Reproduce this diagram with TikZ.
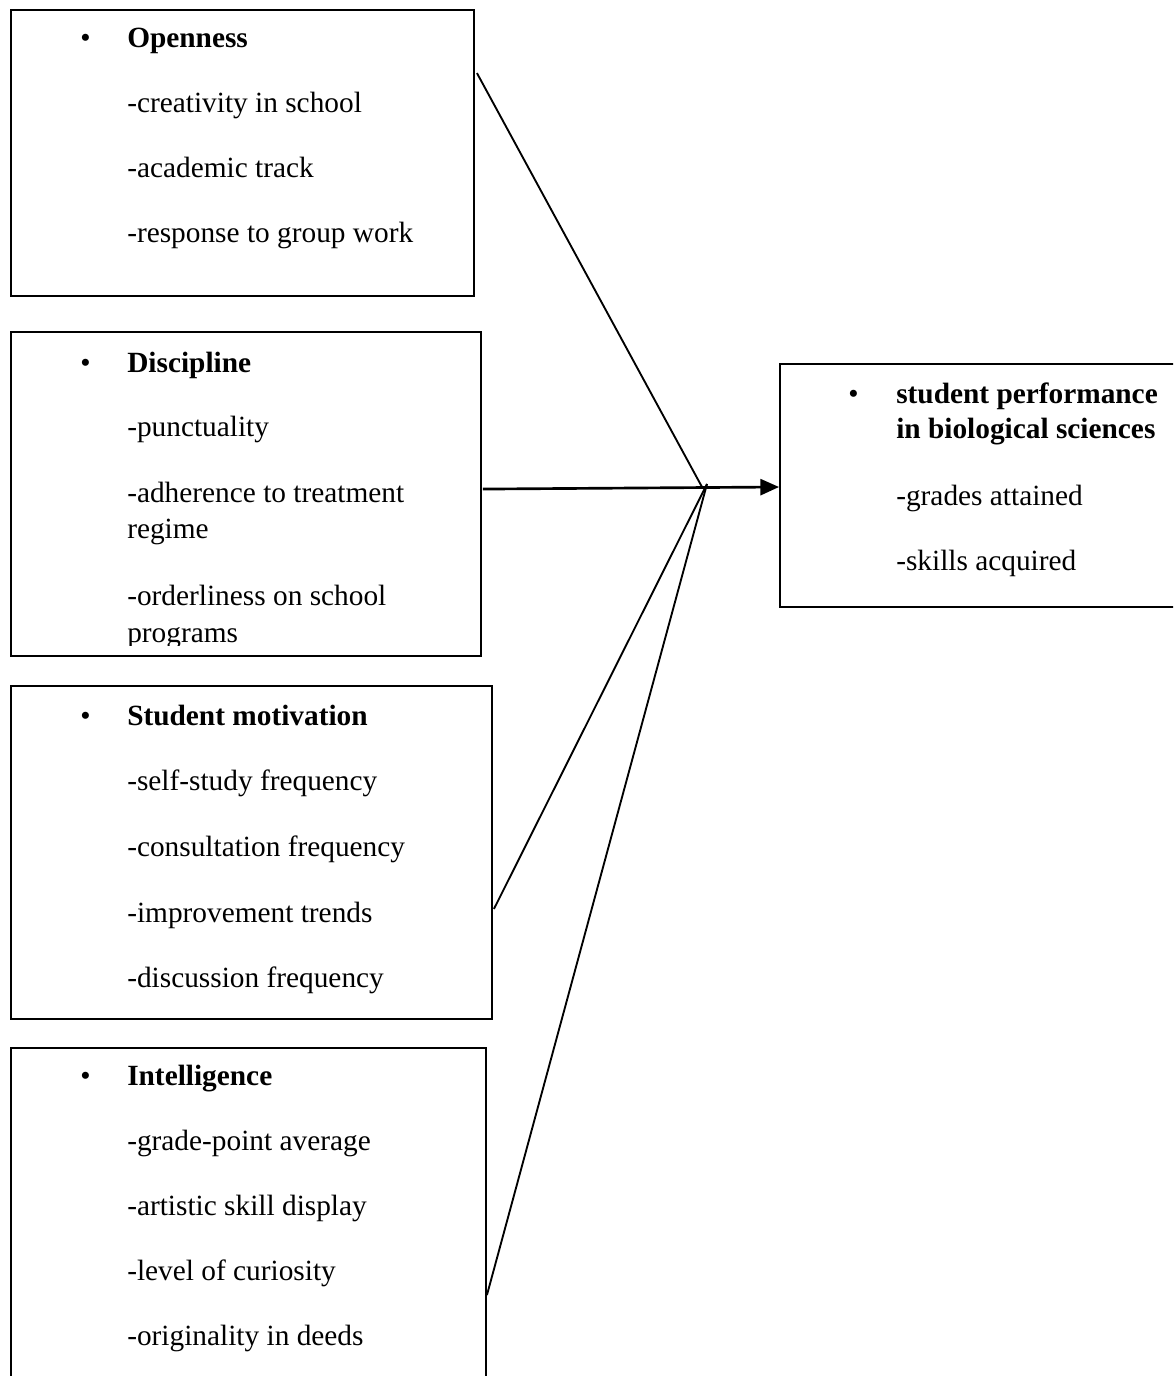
\documentclass[tikz,border=0pt]{standalone}
\usepackage{fontspec}
\setmainfont{Liberation Serif}
\usetikzlibrary{fit,arrows.meta,calc}
\begin{document}
\begin{tikzpicture}[x=0.75pt,y=-0.75pt,
  boxst/.style={draw,line width=1.4pt,inner sep=0pt,rectangle},
  txt/.style={anchor=base west,inner sep=0pt,font=\fontsize{22pt}{26pt}\selectfont},
  hd/.style={txt,font=\fontsize{22pt}{26pt}\selectfont\bfseries},
  link/.style={line width=1.4pt},
  arr/.style={line width=2pt,-{Triangle[length=14pt,width=12pt]}}]
\clip (0,0) rectangle (1173,1376);
\fill[white] (0,0) rectangle (1173,1376);

% boxes
\node[boxst,fit={(11,10) (474,296)}] (open) {};
\node[boxst,fit={(11,332) (481,656)}] (disc) {};
\node[boxst,fit={(11,686) (492,1019)}] (moti) {};
\node[boxst,fit={(11,1048) (486,1400)}] (intel) {};
\node[boxst,fit={(780,364) (1190,607)}] (perf) {};

% Openness
\node[txt] (ob) at (80,48) {•};
\node[hd] (oh) at (127,48) {Openness};
\node[txt] (o1) at (127,113) {-creativity in school};
\node[txt] (o2) at (127,178) {-academic track};
\node[txt] (o3) at (127,243) {-response to group work};

% Discipline
\node[txt] (db) at (80,372) {•};
\node[hd] (dh) at (127,372) {Discipline};
\node[txt] (d1) at (127,436) {-punctuality};
\node[txt] (d2) at (127,502) {-adherence to treatment};
\node[txt] (d2b) at (127,538) {regime};
\node[txt] (d3) at (127,605) {-orderliness on school};
\begin{scope}
\clip (11,332) rectangle (481,645);
\node[txt] (d3b) at (127,642) {programs};
\end{scope}

% Student motivation
\node[txt] (mb) at (80,725) {•};
\node[hd] (mh) at (127,725) {Student motivation};
\node[txt] (m1) at (127,790) {-self-study frequency};
\node[txt] (m2) at (127,856) {-consultation frequency};
\node[txt] (m3) at (127,922) {-improvement trends};
\node[txt] (m4) at (127,987) {-discussion frequency};

% Intelligence
\node[txt] (ib) at (80,1085) {•};
\node[hd] (ih) at (127,1085) {Intelligence};
\node[txt] (i1) at (127,1150) {-grade-point average};
\node[txt] (i2) at (127,1215) {-artistic skill display};
\node[txt] (i3) at (127,1280) {-level of curiosity};
\node[txt] (i4) at (127,1345) {-originality in deeds};

% Outcome
\node[txt] (pb) at (848,403) {•};
\node[hd] (ph1) at (896,403) {student performance};
\node[hd] (ph2) at (896,438) {in biological sciences};
\node[txt] (p1) at (896,505) {-grades attained};
\node[txt] (p2) at (896,570) {-skills acquired};

% junctions
\coordinate (ja) at (702,487);
\coordinate (jb) at (707,484);

% connectors
\draw[link] ([shift={(2,64)}]open.north east) -- (ja);
\draw[arr] ([shift={(1,158)}]disc.north east) -- (perf.north west |- 0,487);
\draw[link] (jb) -- ([shift={(1,-111)}]moti.south east);
\draw[link] (jb) -- ([shift={(0,248)}]intel.north east);
\end{tikzpicture}
\end{document}
